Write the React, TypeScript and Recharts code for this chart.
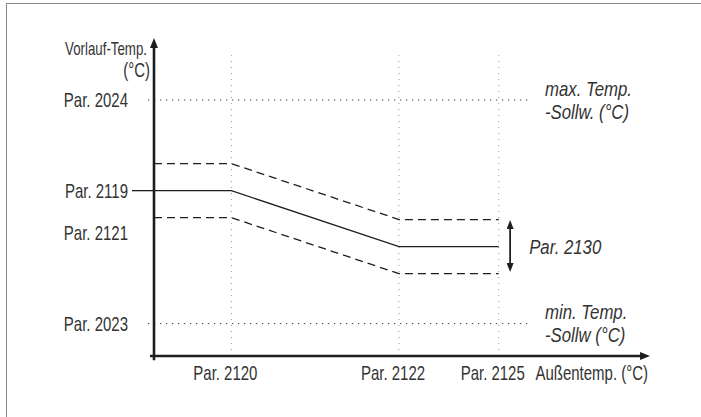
import React from "react";
import { LineChart, Line, XAxis, YAxis, ReferenceLine } from "recharts";

// outdoor temperature break points (schematic units, 0..100)
const xTickLabels = ["Par. 2120", "Par. 2122", "Par. 2125"];
const xTickValues = [15.6, 49.4, 69.5];

// flow temperature levels (schematic units, 0..100)
const yTickLabels = ["Par. 2023", "Par. 2121", "Par. 2119", "Par. 2024"];
const yTickValues = [10.2, 38.7, 52, 80.5];

// heating curve: set value and the +/- Par. 2130 band
const curveX = [0, 15.6, 49.4, 69.5];
const curveSet = [52, 52, 34.4, 34.4];
const curveUpper = [60.5, 60.5, 42.9, 42.9];
const curveLower = [43.5, 43.5, 25.9, 25.9];

const maxTemp = 80.5;
const minTemp = 10.2;
const bandX = 71.8;
const bandTop = 41.2;
const bandBottom = 28.0;

const data = curveX.map((x, i) => ({
  x,
  set: curveSet[i],
  upper: curveUpper[i],
  lower: curveLower[i],
}));

const FONT = "'Liberation Sans', Arial, sans-serif";
const TEXT = "#333";
const INK = "#1e1e1e";

// condensed text: regular sans squeezed horizontally
const Narrow = ({ x, y, anchor = "start", size = 20, squeeze = 0.75, italic = false, children }: any) => (
  <text
    transform={`translate(${x},${y}) scale(${squeeze},1)`}
    x={0}
    y={0}
    dy="0.36em"
    textAnchor={anchor}
    fill={TEXT}
    fontSize={size}
    fontStyle={italic ? "italic" : "normal"}
    fontFamily={FONT}
  >
    {children}
  </text>
);

const YTick = (props: any) => {
  const { x, y, payload } = props;
  const idx = yTickValues.indexOf(payload.value);
  const label = yTickLabels[idx];
  return (
    <g>
      {label === "Par. 2119" && <line x1={x - 22} x2={x} y1={y} y2={y} stroke={INK} strokeWidth={1.3} />}
      <Narrow x={x - 26} y={y} anchor="end">{label}</Narrow>
    </g>
  );
};

const XTick = (props: any) => {
  const { x, y, payload } = props;
  const idx = xTickValues.indexOf(payload.value);
  return (
    <Narrow x={x - 6} y={y + 17} anchor="middle">{xTickLabels[idx]}</Narrow>
  );
};

const SideNote = (lines: string[]) => (props: any) => {
  const { viewBox } = props;
  const x = viewBox.x + viewBox.width + 14;
  const y = viewBox.y + viewBox.height / 2;
  return (
    <g>
      <Narrow x={x} y={y - 11.5} size={20} squeeze={0.84} italic>{lines[0]}</Narrow>
      <Narrow x={x} y={y + 11.5} size={20} squeeze={0.84} italic>{lines[1]}</Narrow>
    </g>
  );
};

const BandNote = (props: any) => {
  const { viewBox } = props;
  return (
    <Narrow x={viewBox.x + 19} y={viewBox.y + viewBox.height / 2} size={21} squeeze={0.8} italic>
      Par. 2130
    </Narrow>
  );
};

const YTitle = (props: any) => {
  const { viewBox } = props;
  const x = viewBox.x + viewBox.width;
  return (
    <g>
      <Narrow x={x - 7} y={viewBox.y + 10} anchor="end" size={19} squeeze={0.7}>Vorlauf-Temp.</Narrow>
      <Narrow x={x - 4} y={viewBox.y + 32} anchor="end">(°C)</Narrow>
    </g>
  );
};

const XTitle = (props: any) => {
  const { viewBox } = props;
  return (
    <Narrow x={viewBox.x + viewBox.width - 2} y={viewBox.y + 17} anchor="end">
      Außentemp. (°C)
    </Narrow>
  );
};

export default function App() {
  return (
    <div style={{ position: "absolute", left: 0, top: 0, width: 701, height: 417, background: "#fff", overflow: "hidden" }}>
      <div
        style={{
          position: "absolute",
          left: 6,
          top: 3,
          right: -10,
          bottom: -10,
          borderTop: "1.5px solid #8a8a8a",
          borderLeft: "1.5px solid #8a8a8a",
        }}
      />
      <svg width={0} height={0} style={{ position: "absolute" }}>
        <defs>
          <marker id="axisArrow" viewBox="0 0 10 8" refX={4} refY={4} markerWidth={10} markerHeight={8} markerUnits="userSpaceOnUse" orient="auto-start-reverse">
            <path d="M0,0 L10,4 L0,8 z" fill={INK} />
          </marker>
          <marker id="bandArrow" viewBox="0 0 9 7" refX={4} refY={3.5} markerWidth={9} markerHeight={7} markerUnits="userSpaceOnUse" orient="auto-start-reverse">
            <path d="M0,0 L9,3.5 L0,7 z" fill={INK} />
          </marker>
        </defs>
      </svg>
      <LineChart
        width={701}
        height={417}
        data={data}
        margin={{ top: 38, right: 51, left: 4, bottom: 31 }}
        style={{ position: "absolute", left: 0, top: 0 }}
      >
        <XAxis
          dataKey="x"
          type="number"
          domain={[0, 100]}
          ticks={xTickValues}
          tick={<XTick />}
          tickLine={false}
          axisLine={false}
          tickSize={0}
          tickMargin={0}
          height={30}
          label={<XTitle />}
        />
        <YAxis
          type="number"
          domain={[0, 100]}
          ticks={yTickValues}
          tick={<YTick />}
          tickLine={false}
          axisLine={false}
          tickSize={0}
          tickMargin={0}
          width={150}
          label={<YTitle />}
        />

        {xTickValues.map((v) => (
          <ReferenceLine
            key={"v" + v}
            segment={[{ x: v, y: 0 }, { x: v, y: 94.6 }]}
            stroke="#9a9a9a"
            strokeWidth={1}
            strokeDasharray="1 5"
            ifOverflow="visible"
          />
        ))}
        <ReferenceLine
          segment={[{ x: -1.2, y: maxTemp }, { x: 76, y: maxTemp }]}
          stroke="#333"
          strokeWidth={1}
          strokeDasharray="1.2 4.8"
          ifOverflow="visible"
          label={SideNote(["max. Temp.", "-Sollw. (°C)"])}
        />
        <ReferenceLine
          segment={[{ x: -1.2, y: minTemp }, { x: 76, y: minTemp }]}
          stroke="#333"
          strokeWidth={1}
          strokeDasharray="1.2 4.8"
          ifOverflow="visible"
          label={SideNote(["min. Temp.", "-Sollw (°C)"])}
        />

        <Line type="linear" dataKey="upper" stroke={INK} strokeWidth={1.3} strokeDasharray="8 5" dot={false} activeDot={false} isAnimationActive={false} />
        <Line type="linear" dataKey="set" stroke={INK} strokeWidth={1.3} dot={false} activeDot={false} isAnimationActive={false} />
        <Line type="linear" dataKey="lower" stroke={INK} strokeWidth={1.3} strokeDasharray="8 5" dot={false} activeDot={false} isAnimationActive={false} />

        <ReferenceLine
          segment={[{ x: bandX, y: bandTop }, { x: bandX, y: bandBottom }]}
          stroke={INK}
          strokeWidth={1.8}
          markerStart="url(#bandArrow)"
          markerEnd="url(#bandArrow)"
          ifOverflow="visible"
          label={<BandNote />}
        />

        {/* axes with arrow heads */}
        <ReferenceLine
          segment={[{ x: -0.8, y: 0 }, { x: 98.8, y: 0 }]}
          stroke={INK}
          strokeWidth={2.6}
          markerEnd="url(#axisArrow)"
          ifOverflow="visible"
        />
        <ReferenceLine
          segment={[{ x: 0, y: -1.3 }, { x: 0, y: 98.1 }]}
          stroke={INK}
          strokeWidth={2.6}
          markerEnd="url(#axisArrow)"
          ifOverflow="visible"
        />
      </LineChart>
    </div>
  );
}
